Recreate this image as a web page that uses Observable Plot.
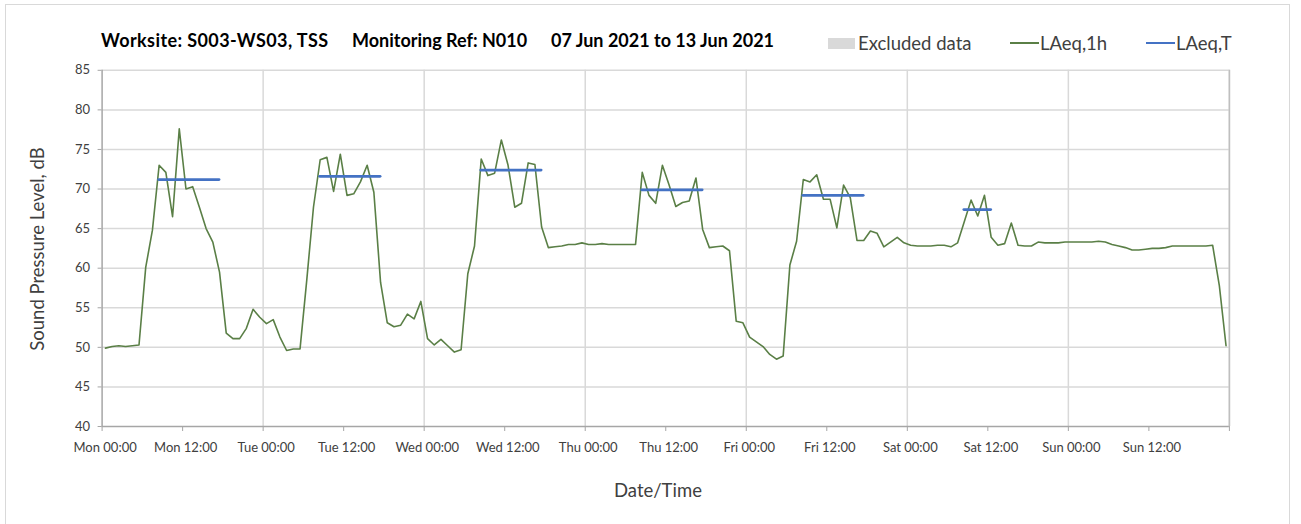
<!DOCTYPE html>
<html>
<head>
<meta charset="utf-8">
<script src="https://cdn.jsdelivr.net/npm/d3@7"></script>
<script src="https://cdn.jsdelivr.net/npm/@observablehq/plot@0.6"></script>
<style>
  html, body { margin: 0; padding: 0; background: #fff; width: 1301px; height: 524px; overflow: hidden; font-family: Lato, "Open Sans", sans-serif; }
  #frame { position: absolute; left: 5px; top: 4px; width: 1285px; height: 540px; border: 1px solid #d9d9d9; box-sizing: border-box; }
  #chart { position: absolute; left: 0; top: 0; }
  .title { position: absolute; top: 29px; font-weight: bold; font-size: 18px; line-height: 22px; color: #000; white-space: pre; }
  .legend { position: absolute; top: 32px; font-size: 18.5px; line-height: 22px; color: #404040; white-space: pre; }
  .sw { position: absolute; }
  .axtitle { position: absolute; font-size: 18.5px; line-height: 22px; color: #404040; white-space: pre; }
  #chart [aria-label="x-axis"] .tick line, #chart [aria-label="y-axis"] .tick line { stroke: #a6a6a6; }
  #chart [aria-label="x-axis tick"], #chart [aria-label="y-axis tick"] { color: #a6a6a6; }
  #chart [aria-label="x-axis"] .tick text, #chart [aria-label="x-axis tick label"] text { translate: 3px 0; }
</style>
</head>
<body>
<div id="frame"></div>
<div id="chart"></div>
<div class="title" id="t1" style="left:101px;letter-spacing:0.4px">Worksite: S003-WS03, TSS</div>
<div class="title" id="t2" style="left:352px">Monitoring Ref: N010</div>
<div class="title" id="t3" style="left:551px">07 Jun 2021 to 13 Jun 2021</div>
<div class="sw" style="left:828px;top:38px;width:27px;height:11px;background:#d9d9d9"></div>
<div class="legend" style="left:858px">Excluded data</div>
<div class="sw" style="left:1010px;top:42px;width:29px;height:1.6px;background:#5a7f46"></div>
<div class="legend" style="left:1040px">LAeq,1h</div>
<div class="sw" style="left:1146px;top:41.5px;width:29px;height:2.8px;background:#4472c4"></div>
<div class="legend" style="left:1176px">LAeq,T</div>
<div class="axtitle" id="xt" style="left:614px;top:479px">Date/Time</div>
<div class="axtitle" id="yt" style="left:37px;top:249px;transform:translate(-50%,-50%) rotate(-90deg)">Sound Pressure Level, dB</div>
<script>
// Hourly LAeq,1h values (dB), one array per day, hours 00..23
const mon = [49.9,50.1,50.2,50.1,50.2,50.3,60.1,64.8,73.0,72.1,66.5,77.6,70.0,70.3,67.7,65.0,63.3,59.5,51.8,51.1,51.1,52.4,54.8,53.8];
const tue = [53.0,53.5,51.3,49.6,49.8,49.8,58.5,67.7,73.7,74.0,69.7,74.4,69.2,69.4,70.9,73.0,69.6,58.2,53.1,52.6,52.8,54.2,53.6,55.8];
const wed = [51.1,50.3,51.0,50.2,49.4,49.7,59.3,62.8,73.8,71.7,72.0,76.2,73.0,67.7,68.2,73.3,73.1,65.2,62.6,62.7,62.8,63.0,63.0,63.2];
const thu = [63.0,63.0,63.1,63.0,63.0,63.0,63.0,63.0,72.1,69.2,68.2,73.0,70.5,67.8,68.3,68.5,71.4,64.9,62.6,62.7,62.8,62.2,53.3,53.1];
const fri = [51.3,50.7,50.1,49.1,48.5,48.9,60.4,63.4,71.2,70.9,71.8,68.7,68.7,65.1,70.5,68.9,63.5,63.5,64.7,64.4,62.7,63.3,63.9,63.2];
const sat = [62.9,62.8,62.8,62.8,62.9,62.9,62.7,63.2,65.9,68.6,66.6,69.2,63.9,62.9,63.1,65.7,62.9,62.8,62.8,63.3,63.2,63.2,63.2,63.3];
const sun = [63.3,63.3,63.3,63.3,63.4,63.3,63.0,62.8,62.6,62.3,62.3,62.4,62.5,62.5,62.6,62.8,62.8,62.8,62.8,62.8,62.8,62.9,57.8,50.2];

// LAeq,T periods: day index, first hour, hour after last, value (dB)
const laeqTDay   = [0, 1, 2, 3, 4, 5];
const laeqTStart = [8, 8, 8, 8, 8, 8];
const laeqTEnd   = [18, 18, 18, 18, 18, 13];
const laeqTValue = [71.2, 71.6, 72.4, 69.9, 69.2, 67.4];

// Axis ticks
const xTickHours = [0,12,24,36,48,60,72,84,96,108,120,132,144,156,168];
const xTickLabels = ["Mon 00:00","Mon 12:00","Tue 00:00","Tue 12:00","Wed 00:00","Wed 12:00","Thu 00:00","Thu 12:00","Fri 00:00","Fri 12:00","Sat 00:00","Sat 12:00","Sun 00:00","Sun 12:00",""];
const dayGridHours = [24,48,72,96,120,144,168];
const yTicks = [40,45,50,55,60,65,70,75,80,85];

// Build tables
const days = [mon, tue, wed, thu, fri, sat, sun];
const hourly = [];
days.forEach((arr, d) => arr.forEach((v, h) => hourly.push({t: d * 24 + h + 0.5, v})));
const periods = laeqTDay.map((d, i) => ({
  x1: d * 24 + laeqTStart[i] + 0.5,
  x2: d * 24 + laeqTEnd[i] - 0.5,
  y: laeqTValue[i]
}));

const chart = Plot.plot({
  width: 1301,
  height: 524,
  marginLeft: 101.6,
  marginRight: 72.1,
  marginTop: 69.8,
  marginBottom: 98,
  style: {fontFamily: "Lato, 'Open Sans', sans-serif", fontSize: "13px", color: "#404040", background: "transparent", overflow: "visible"},
  x: {type: "linear", domain: [0, 168], ticks: xTickHours, tickFormat: d => xTickLabels[xTickHours.indexOf(d)] || "", tickSize: 5, tickPadding: 11, label: null},
  y: {domain: [40, 85], ticks: yTicks, tickSize: 4, tickPadding: 8, label: null},
  marks: [
    Plot.ruleY(yTicks.filter(v => v > 40), {stroke: "#d9d9d9", strokeWidth: 1.5}),
    Plot.ruleX(dayGridHours, {stroke: "#d9d9d9", strokeWidth: 1.5}),
    Plot.ruleY([40], {stroke: "#a6a6a6", strokeWidth: 1.5}),
    Plot.ruleX([0], {stroke: "#a6a6a6", strokeWidth: 1.5}),
    Plot.ruleX([168], {stroke: "#bfbfbf", strokeWidth: 1.5}),
    Plot.line(hourly, {x: "t", y: "v", stroke: "#5a7f46", strokeWidth: 1.6}),
    Plot.ruleY(periods, {x1: "x1", x2: "x2", y: "y", stroke: "#4472c4", strokeWidth: 2.8, strokeLinecap: "round"})
  ]
});
document.getElementById("chart").appendChild(chart);
</script>
</body>
</html>
